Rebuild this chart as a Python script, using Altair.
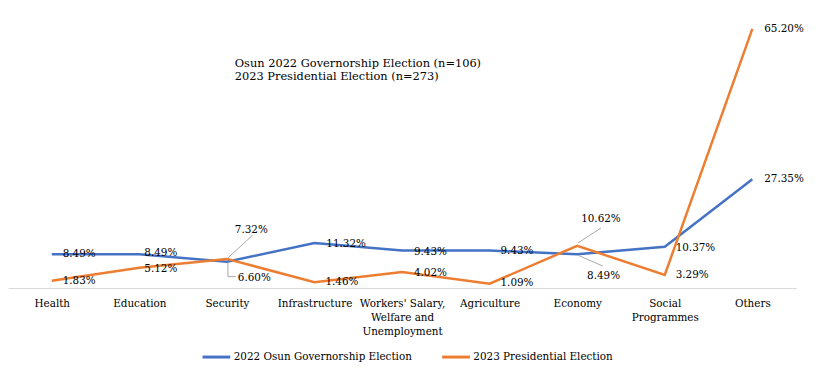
import altair as alt
import pandas as pd

categories = ["Health", "Education", "Security", "Infrastructure",
              "Workers' Salary,\nWelfare and\nUnemployment", "Agriculture",
              "Economy", "Social\nProgrammes", "Others"]
series_names = ["2022 Osun Governorship Election", "2023 Presidential Election"]
gov_2022 = [8.49, 8.49, 6.60, 11.32, 9.43, 9.43, 8.49, 10.37, 27.35]
pres_2023 = [1.83, 5.12, 7.32, 1.46, 4.02, 1.09, 10.62, 3.29, 65.20]
title_lines = ["Osun 2022 Governorship Election (n=106)",
               "2023 Presidential Election (n=273)"]

# label placement (pixel offsets from each point)
gov_dx = [11, 5, 11, 12, 12, 11, 10, 11, 12]
gov_dy = [0, -1, 16, 1, 2, 1, 22, 1, 0]
pres_dx = [11, 5, 8, 11, 12, 11, 4, 11, 12]
pres_dy = [0, 1, -29, 0, 1, -1, -27, 0, 0]

FONT = "DejaVu Serif"
BLUE = "#4472C4"
ORANGE = "#ED7D31"

rows = []
for i, c in enumerate(categories):
    rows.append({"category": c, "series": series_names[0], "value": gov_2022[i],
                 "label": f"{gov_2022[i]:.2f}%", "ldx": gov_dx[i], "ldy": gov_dy[i]})
for i, c in enumerate(categories):
    rows.append({"category": c, "series": series_names[1], "value": pres_2023[i],
                 "label": f"{pres_2023[i]:.2f}%", "ldx": pres_dx[i], "ldy": pres_dy[i]})
df = pd.DataFrame(rows)

# leader lines: (series index, category index, x1, y1, x2, y2 offsets in px)
leaders = [
    (0, 2, 1, 1, 1, 15),
    (0, 2, 1, 15, 9, 15),
    (1, 2, 1, -1, 26, -24),
    (0, 6, 1, 1, 26, 12),
    (1, 6, 1, -3, 24, -18),
]

xenc = alt.X("category:N", sort=categories, scale=alt.Scale(type="point", padding=0.5),
             axis=alt.Axis(title=None, labelAngle=0, ticks=False, domainColor="#d9d9d9",
                           domainWidth=1, labelFont=FONT, labelFontSize=10.5,
                           labelColor="#000000", labelPadding=11, labelLineHeight=14,
                           labelExpr="split(datum.label, '\\n')"))
yenc = alt.Y("value:Q", scale=alt.Scale(domain=[0, 70], nice=False, zero=True), axis=None)
xplain = alt.X("category:N", sort=categories)

lines = alt.Chart(df).mark_line(strokeWidth=2.5).encode(
    x=xenc, y=yenc,
    color=alt.Color("series:N", sort=series_names,
                    scale=alt.Scale(domain=series_names, range=[BLUE, ORANGE]),
                    legend=alt.Legend(orient="none", legendX=195, legendY=335,
                                      direction="horizontal", title=None,
                                      symbolType="stroke", symbolSize=784,
                                      symbolStrokeWidth=3, labelFont=FONT,
                                      labelFontSize=10.5, labelColor="#000000",
                                      labelLimit=400,
                                      labelOffset=2, columnPadding=23)),
)

layers = [lines]

# data labels grouped by offset
offsets = sorted(set(zip(df["ldx"], df["ldy"])))
for dx, dy in offsets:
    sub = df[(df["ldx"] == dx) & (df["ldy"] == dy)]
    layers.append(alt.Chart(sub).mark_text(
        align="left", baseline="middle", font=FONT, fontSize=10.5, color="#000000",
        dx=int(dx), dy=int(dy),
    ).encode(x=xplain, y="value:Q", text="label:N"))

# leader lines
for s, ci, x1, y1, x2, y2 in leaders:
    vals = gov_2022 if s == 0 else pres_2023
    ldf = pd.DataFrame({"category": [categories[ci]], "value": [vals[ci]]})
    layers.append(alt.Chart(ldf).mark_rule(
        color="#a6a6a6", strokeWidth=1,
        xOffset=x1, yOffset=y1, x2Offset=x2, y2Offset=y2,
    ).encode(x=xplain, y="value:Q", x2="category:N", y2="value:Q"))

# annotation title
one = pd.DataFrame({"t": [0]})
for k, line in enumerate(title_lines):
    layers.append(alt.Chart(one).mark_text(
        align="left", baseline="middle", font=FONT, fontSize=11.5, color="#000000",
    ).encode(x=alt.value(229), y=alt.value(55 + 13 * k), text=alt.value(line)))

chart = alt.layer(*layers).properties(
    width=796, height=281,
    autosize=alt.AutoSizeParams(type="none"),
    padding={"left": 0, "top": 0, "right": 12, "bottom": 80},
).configure_view(stroke=None)

chart.save("out.html", embed_options={"renderer": "svg", "actions": False})
